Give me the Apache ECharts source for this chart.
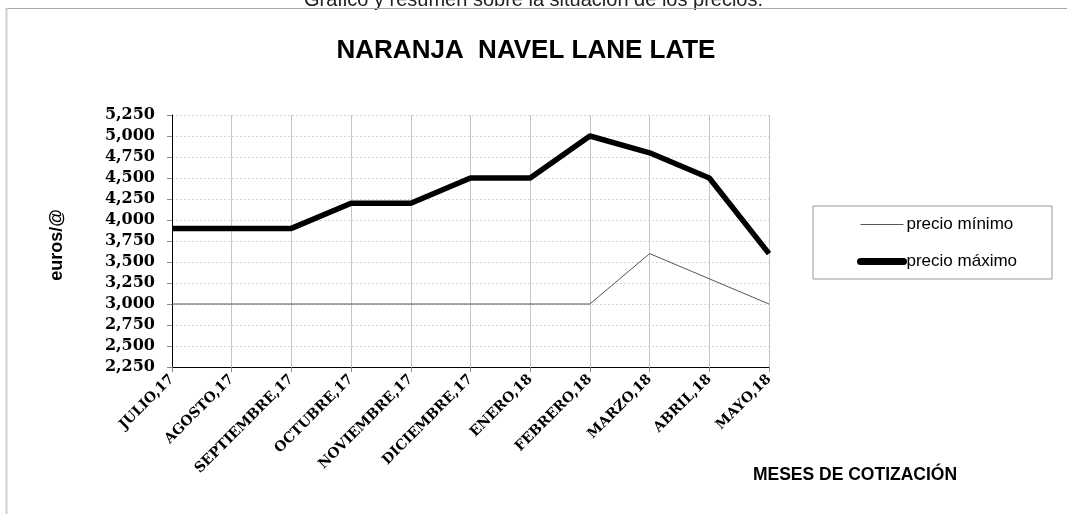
<!DOCTYPE html>
<html>
<head>
<meta charset="utf-8">
<script src="https://cdn.jsdelivr.net/npm/echarts@6/dist/echarts.min.js"></script>
<style>html,body{margin:0;padding:0;background:#fff;}#c{width:1067px;height:514px;}</style>
</head>
<body>
<div id="c"></div>
<script>
var categories = ['JULIO,17','AGOSTO,17','SEPTIEMBRE,17','OCTUBRE,17','NOVIEMBRE,17','DICIEMBRE,17','ENERO,18','FEBRERO,18','MARZO,18','ABRIL,18','MAYO,18'];
var precioMinimo = [3.0,3.0,3.0,3.0,3.0,3.0,3.0,3.0,3.6,3.3,3.0];
var precioMaximo = [3.9,3.9,3.9,4.2,4.2,4.5,4.5,5.0,4.8,4.5,3.6];
var yMin = 2.25, yMax = 5.25, yStep = 0.25;

var chart = echarts.init(document.getElementById('c'));
var serif = '"DejaVu Serif", serif';
var sans = '"Liberation Sans", Arial, sans-serif';
chart.setOption({
  backgroundColor: '#fff',
  animation: false,
  title: {
    text: 'NARANJA  NAVEL LANE LATE',
    left: 521, top: 33, textAlign: 'center',
    textStyle: { fontFamily: sans, fontSize: 26, fontWeight: 'bold', color: '#000' }
  },
  graphic: [
    { type: 'text', left: 'center', top: -10, style: { text: 'Gráfico y resumen sobre la situación de los precios.', font: '20px "Liberation Sans", Arial, sans-serif', fill: '#222' } },
    { type: 'line', shape: { x1: 6, y1: 8.5, x2: 1067, y2: 8.5 }, style: { stroke: '#a8a8a8', lineWidth: 1 } },
    { type: 'line', shape: { x1: 6.5, y1: 8, x2: 6.5, y2: 514 }, style: { stroke: '#cfcfcf', lineWidth: 2 } },
    { type: 'text', x: 57, y: 245, rotation: Math.PI/2, style: { text: 'euros/@', font: 'bold 18px "Liberation Sans", Arial, sans-serif', fill: '#000', align: 'center', verticalAlign: 'middle' } },
    { type: 'text', x: 855, y: 475, style: { text: 'MESES DE COTIZACIÓN', font: 'bold 17.5px "Liberation Sans", Arial, sans-serif', fill: '#000', align: 'center', verticalAlign: 'middle' } }
  ],
  legend: {
    orient: 'vertical',
    left: 813, top: 206,
    padding: [10, 35, 9, 44],
    itemGap: 20,
    itemWidth: 43, itemHeight: 17,
    borderColor: '#999', borderWidth: 1,
    itemStyle: { opacity: 0 },
    textStyle: { fontFamily: sans, fontSize: 17, color: '#000', padding: [0, 0, 0, -2] },
    data: [
      { name: 'precio mínimo', lineStyle: { width: 1, color: '#555' } },
      { name: 'precio máximo', lineStyle: { width: 7, color: '#000', cap: 'round' } }
    ]
  },
  grid: { left: 172, right: 298, top: 115, bottom: 147 },
  xAxis: {
    type: 'category',
    data: categories,
    boundaryGap: false,
    axisLine: { lineStyle: { color: '#000', width: 1 } },
    axisTick: { show: true, alignWithLabel: true, length: 5, lineStyle: { color: '#888' } },
    axisLabel: { rotate: 45, interval: 0, margin: 10, fontFamily: serif, fontWeight: 'bold', fontSize: 14, color: '#000' },
    splitLine: { show: true, lineStyle: { color: '#c4c4c4', width: 1 } }
  },
  yAxis: {
    type: 'value',
    min: yMin, max: yMax, interval: yStep,
    axisLine: { show: true, lineStyle: { color: '#000', width: 1 } },
    axisTick: { show: true, length: 5, lineStyle: { color: '#888' } },
    axisLabel: {
      margin: 17, fontFamily: serif, fontWeight: 'bold', fontSize: 16, color: '#000',
      formatter: function (v) { return v.toFixed(3).replace('.', ','); }
    },
    splitLine: { show: true, lineStyle: { color: '#d6d6d6', width: 1, type: [2, 2] } }
  },
  series: [
    { name: 'precio mínimo', type: 'line', data: precioMinimo, symbol: 'none', lineStyle: { color: '#555', width: 1 }, itemStyle: { color: '#555' } },
    { name: 'precio máximo', type: 'line', data: precioMaximo, symbol: 'none', lineStyle: { color: '#000', width: 5.5 }, itemStyle: { color: '#000' } }
  ]
});
</script>
</body>
</html>
